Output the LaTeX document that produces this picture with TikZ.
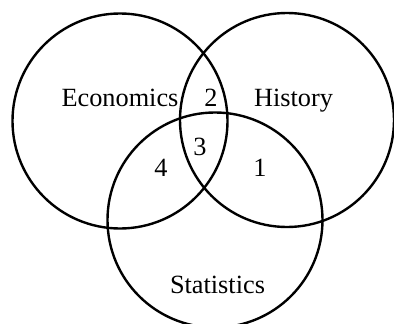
\documentclass[tikz,border=0pt]{standalone}
\usepackage{fontspec}
\setmainfont{Liberation Serif}
\begin{document}
\begin{tikzpicture}[x=0.025cm, y=-0.025cm,
    conjunto/.style={line width=1.7pt},
    etiqueta/.style={font=\fontsize{18.7}{22}\selectfont, anchor=base, inner sep=0pt}]
        \useasboundingbox (0,0) rectangle (394,323);
        \clip (0,0) rectangle (394,323);

        % Conjuntos
        \draw[conjunto] (120,121) circle (107.5);
        \draw[conjunto] (287,120) circle (107);
        \draw[conjunto] (215,220) circle (107.5);

        % Nombres
        \node[etiqueta] (eco) at (120,106) {Economics};
        \node[etiqueta] (his) at (293.5,106) {History};
        \node[etiqueta] (est) at (217.5,293) {Statistics};

        % Regiones
        \node[etiqueta] (r2) at (211,106) {2};
        \node[etiqueta] (r3) at (200,155) {3};
        \node[etiqueta] (r4) at (161,176) {4};
        \node[etiqueta] (r1) at (260,176) {1};
    \end{tikzpicture}
\end{document}
